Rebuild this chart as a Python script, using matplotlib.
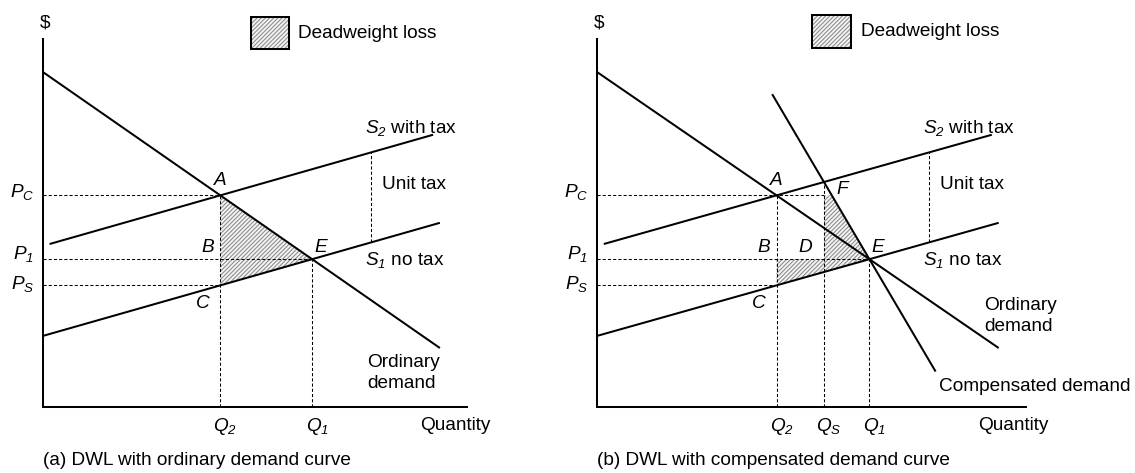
import matplotlib
matplotlib.use("Agg")
import matplotlib.pyplot as plt
from matplotlib.patches import Rectangle

plt.rcParams['font.family'] = ['Liberation Sans', 'DejaVu Sans']
# every math label here is italic, digits included
plt.rcParams['mathtext.fontset'] = 'custom'
plt.rcParams['mathtext.rm'] = 'Liberation Sans:italic'
plt.rcParams['mathtext.it'] = 'Liberation Sans:italic'
plt.rcParams['hatch.linewidth'] = 0.75

# straight-line curves, price = intercept + slope * quantity
demand = [8.38, -0.737]      # ordinary demand
supply = [1.775, 0.302]      # S1, no tax
unit_tax = 2.25              # shift from S1 to S2
comp_slope = -1.82           # compensated demand, through E
demand_q = [0.0, 9.37]
supply_q = [0.0, 9.37]
taxed_q = [0.165, 9.21]
comp_q = [4.09, 7.9]
tax_marker_q = 7.75

FS = 13.7
LW = 1.45
DASH = dict(color='black', lw=0.75, ls=(0, (3, 2)))
HATCH = dict(facecolor='#f4f4f4', edgecolor='#8a8a8a', hatch='////////', lw=0)


def price(line, q):
    return line[0] + line[1] * q


s2 = [supply[0] + unit_tax, supply[1]]
q1 = (demand[0] - supply[0]) / (supply[1] - demand[1])
p1 = price(demand, q1)
q2 = (demand[0] - s2[0]) / (s2[1] - demand[1])
pc = price(demand, q2)
ps = price(supply, q2)
comp = [p1 - comp_slope * q1, comp_slope]
qs = (comp[0] - s2[0]) / (s2[1] - comp[1])
pf = price(s2, qs)
q_comp_pc = (pc - comp[0]) / comp[1]


def seg(ax, line, qr, **kw):
    ax.plot(qr, [price(line, q) for q in qr], color='black', lw=LW,
            solid_capstyle='butt', **kw)


def it(ax, x, y, s, **kw):
    ax.text(x, y, s, fontsize=FS, ha='center', va='center', **kw)


def panel(ax, compensated):
    ax.set_xlim(0, 10)
    ax.set_ylim(0, 9.2)
    ax.patch.set_visible(False)
    for side in ['top', 'right']:
        ax.spines[side].set_visible(False)
    for side in ['left', 'bottom']:
        ax.spines[side].set_linewidth(LW)
    ax.set_xticks([])
    ax.set_yticks([])

    # shaded deadweight loss
    if compensated:
        xs = [qs, q_comp_pc, q1, q2, q2, qs]
        ys = [pc, pc, p1, ps, p1, p1]
    else:
        xs = [q2, q1, q2]
        ys = [pc, p1, ps]
    ax.fill(xs, ys, **HATCH)

    # dotted guides
    q_pc_end = qs if compensated else q2
    ax.plot([0, q_pc_end], [pc, pc], **DASH)
    ax.plot([0, q1], [p1, p1], **DASH)
    ax.plot([0, q2], [ps, ps], **DASH)
    ax.plot([q2, q2], [0, pc], **DASH)
    ax.plot([q1, q1], [0, p1], **DASH)
    if compensated:
        ax.plot([qs, qs], [0, pf], **DASH)
    ax.plot([tax_marker_q, tax_marker_q],
            [price(supply, tax_marker_q), price(s2, tax_marker_q)], **DASH)

    seg(ax, demand, demand_q)
    seg(ax, supply, supply_q)
    seg(ax, s2, taxed_q)
    if compensated:
        seg(ax, comp, comp_q)

    # legend swatch
    bx, by = (5.03, 8.98) if compensated else (4.915, 8.94)
    ax.add_patch(Rectangle((bx, by), 0.9, 0.82, clip_on=False, **HATCH))
    ax.add_patch(Rectangle((bx, by), 0.9, 0.82, clip_on=False,
                           fill=False, edgecolor='black', lw=LW))
    ax.text(bx + 1.12, by + 0.4, 'Deadweight loss', fontsize=FS, va='center')

    ax.text(0.06, 9.6, '$', fontsize=FS, ha='center', va='center')

    # price labels
    ax.text(-0.2, pc - 0.05, '$P_C$', fontsize=FS, ha='right', va='baseline')
    ax.text(-0.2, p1, '$P_1$', fontsize=FS, ha='right', va='baseline')
    ax.text(-0.2, ps - 0.1, '$P_S$', fontsize=FS, ha='right', va='baseline')

    # point labels
    it(ax, q2, pc + 0.36, '$A$')
    it(ax, q2 - 0.29, p1 + 0.29, '$B$')
    it(ax, q2 - 0.42, ps - 0.46, '$C$')
    it(ax, q1 + 0.21, p1 + 0.29, '$E$')
    if compensated:
        it(ax, qs + 0.45, pf - 0.19, '$F$')
        it(ax, 4.88, p1 + 0.29, '$D$')

    # curve labels
    ax.text(7.61, 6.98, '$S_2$ with tax', fontsize=FS, va='center')
    ax.text(8.0, 5.575, 'Unit tax', fontsize=FS, va='center')
    ax.text(7.61, 3.675, '$S_1$ no tax', fontsize=FS, va='center')
    if compensated:
        ax.text(9.04, 2.275, 'Ordinary\ndemand', fontsize=FS, va='center',
                linespacing=1.3)
        ax.text(7.99, 0.525, 'Compensated demand', fontsize=FS, va='center')
    else:
        ax.text(7.65, 0.84, 'Ordinary\ndemand', fontsize=FS, va='center',
                linespacing=1.3)

    # quantity labels
    qlabels = [(q2, '$Q_2$'), (q1, '$Q_1$')]
    if compensated:
        qlabels.append((qs, '$Q_S$'))
    for q, s in qlabels:
        ax.text(q + 0.12, -0.49, s, fontsize=FS, ha='center', va='center')
    ax.text(8.9, -0.47, 'Quantity', fontsize=FS, va='center')

    cap = ('(b) DWL with compensated demand curve' if compensated
           else '(a) DWL with ordinary demand curve')
    ax.text(0.0, -1.33, cap, fontsize=FS, va='center')


fig = plt.figure(figsize=(11.35, 4.73), dpi=100)
ax_a = fig.add_axes([0.03753, 0.13953, 0.37357, 0.77801])
ax_b = fig.add_axes([0.52573, 0.13953, 0.37797, 0.77801])
panel(ax_a, False)
panel(ax_b, True)

fig.savefig('out.png', dpi=100)
